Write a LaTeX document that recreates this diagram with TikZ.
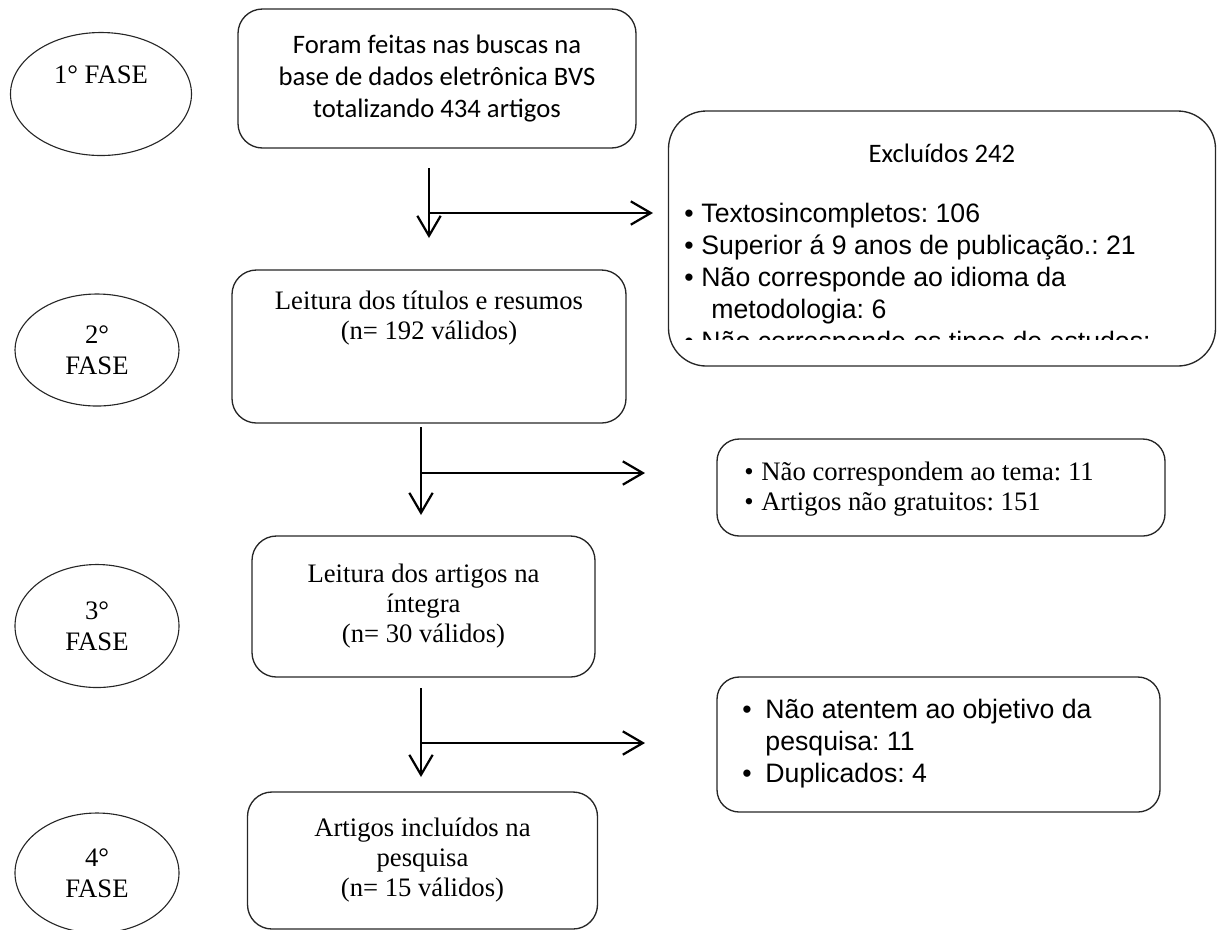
\documentclass[tikz,border=0pt,12pt]{standalone}
\usepackage{fontspec}
\setmainfont{Liberation Serif}
\newfontfamily\calibri{Carlito}
\newfontfamily\arial{Liberation Sans}
\usetikzlibrary{arrows.meta,shapes.geometric}
\frenchspacing
\newdimen\pix
\pix=0.45pt
\newcommand\bala[1]{\makebox[#1][l]{\textbullet}}
\tikzset{fase/.style={ellipse, draw=black!85, line width=0.5pt, inner sep=0pt, align=center,
      font={\fontsize{12}{14}\selectfont}}}
\tikzset{caixa/.style={draw=black!85, line width=0.6pt, rounded corners=11pt, inner sep=0pt, align=center,
      font={\fontsize{12}{13.5}\selectfont}}}
\tikzset{rotulo/.style={inner sep=0pt, anchor=base west}}
\tikzset{seta/.style={line width=1pt, -{Straight Barb[length=9pt,width=10.5pt]}}}

\begin{document}
\begin{tikzpicture}[x=0.45pt,y=-0.45pt]
    \useasboundingbox (0,0) rectangle (1217,929);
    % fases
    \node[fase, minimum width=181\pix, minimum height=123\pix] (f1) at (101,94) {};
    \node[inner sep=0pt] (f1txt) at (101,75) {1° FASE};
    \node[fase, minimum width=164\pix, minimum height=112\pix] (f2) at (97,350) {2°\\FASE};
    \node[fase, minimum width=164\pix, minimum height=123\pix] (f3) at (97,626) {3°\\FASE};
    \node[fase, minimum width=164\pix, minimum height=120\pix] (f4) at (97,873) {4°\\FASE};
    % caixas principais
    \node[caixa, minimum width=398\pix, minimum height=139\pix, font={\calibri\fontsize{12}{14.6}\selectfont}] (b1) at (437,78.5)
      {Foram feitas nas buscas na\\base de dados eletrônica BVS\\totalizando 434 artigos};
    \node[caixa, minimum width=394\pix, minimum height=153\pix] (b2) at (429,346.5) {};
    \node[inner sep=0pt, align=center, font={\fontsize{12}{13.5}\selectfont}] (b2txt) at (429,318)
      {Leitura dos títulos e resumos\\(n= 192 válidos)};
    \node[caixa, minimum width=343\pix, minimum height=141\pix] (b3) at (423.5,606.5)
      {Leitura dos artigos na\\íntegra\\(n= 30 válidos)};
    \node[caixa, minimum width=350\pix, minimum height=137\pix] (b4) at (422.5,860.5)
      {Artigos incluídos na\\pesquisa\\(n= 15 válidos)};
    % excluidos
    \node[caixa, rounded corners=17pt, minimum width=547\pix, minimum height=255\pix] (ex) at (942,238.5) {};
    \node[inner sep=0pt, font={\calibri\fontsize{12}{14.6}\selectfont}] (extit) at (942,153) {Excluídos 242};
    \begin{scope}
      \clip (670,120) rectangle (1214,339);
      \node[rotulo, font=\arial] (exlst) at (684,222) {\parbox[t]{520\pix}{\fontsize{12}{14.4}\selectfont
        \bala{17\pix}Textosincompletos: 106\\
        \bala{17\pix}Superior á 9 anos de publicação.: 21\\
        \bala{17\pix}Não corresponde ao idioma da\\
        \hspace*{27\pix}metodologia: 6\\
        \bala{17\pix}Não corresponde os tipos de estudos:}};
    \end{scope}
    \node[caixa, rounded corners=10pt, minimum width=448\pix, minimum height=97\pix] (nt) at (941,487.5) {};
    \node[rotulo] (ntlst) at (744,480) {\parbox[t]{420\pix}{\fontsize{12}{13.8}\selectfont
        \bala{17\pix}Não correspondem ao tema: 11\\
        \bala{17\pix}Artigos não gratuitos: 151}};
    \node[caixa, rounded corners=10pt, minimum width=443\pix, minimum height=135\pix] (na) at (938.5,744.5) {};
    \node[rotulo, font=\arial] (nalst) at (742,718) {\parbox[t]{420\pix}{\fontsize{12}{14.6}\selectfont
        \bala{23\pix}Não atentem ao objetivo da\\
        \hspace*{23\pix}pesquisa: 11\\
        \bala{23\pix}Duplicados: 4}};
    % setas
    \coordinate (s1a) at (429,168);
    \coordinate (s1b) at (429,238);
    \coordinate (s1j) at (429,213);
    \coordinate (s1h) at (653,213);
    \coordinate (s2a) at (421,427);
    \coordinate (s2b) at (421,515);
    \coordinate (s2j) at (421,473);
    \coordinate (s2h) at (645,473);
    \coordinate (s3a) at (421,688);
    \coordinate (s3b) at (421,777);
    \coordinate (s3j) at (421,743);
    \coordinate (s3h) at (645,743);
    \draw[seta] (s1a) -- (s1b);
    \draw[seta] (s1j) -- (s1h);
    \draw[seta] (s2a) -- (s2b);
    \draw[seta] (s2j) -- (s2h);
    \draw[seta] (s3a) -- (s3b);
    \draw[seta] (s3j) -- (s3h);
\end{tikzpicture}
\end{document}
